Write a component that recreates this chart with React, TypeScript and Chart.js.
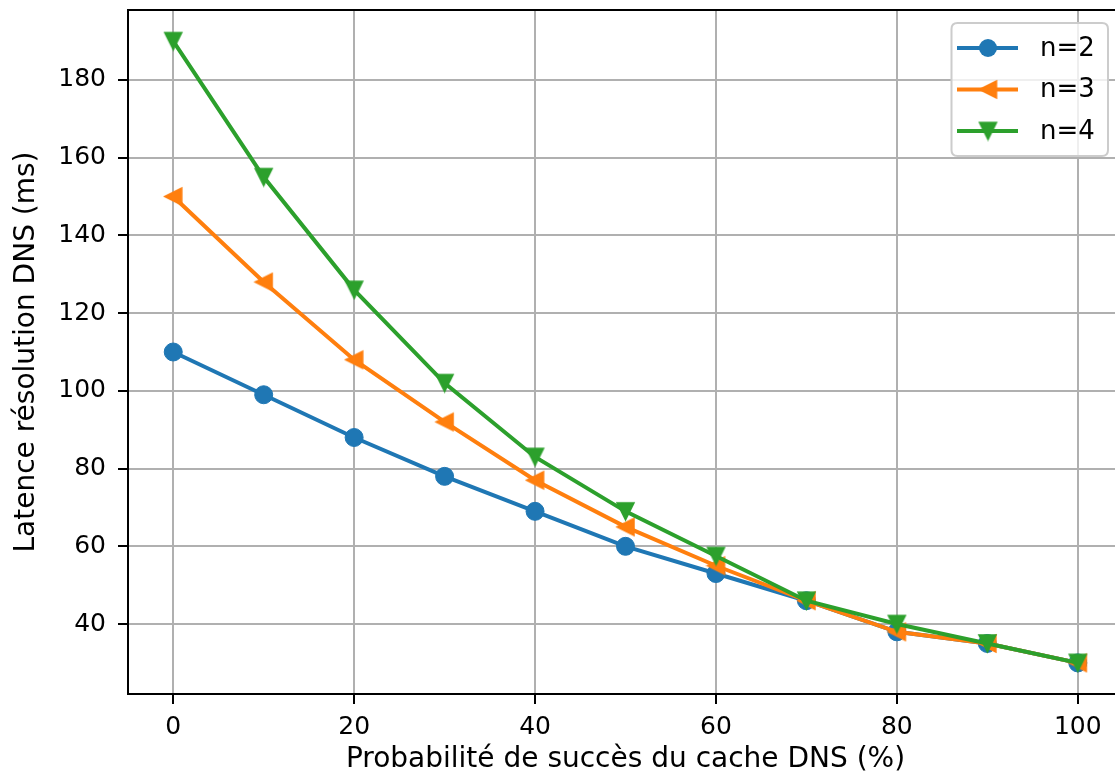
import React, { useEffect, useRef } from "react";
import { Chart, registerables } from "chart.js";

Chart.register(...registerables);

// ---- Data ----
const cacheHitPct = [0, 10, 20, 30, 40, 50, 60, 70, 80, 90, 100];
const latencyN2 = [110, 99, 88, 78, 69, 60, 53, 46, 38, 35, 30];
const latencyN3 = [150, 128, 108, 92, 77, 65, 55, 46, 38, 35, 30];
const latencyN4 = [190, 155, 126, 102, 83, 69, 57.5, 46, 40, 35, 30];
const seriesLabels = ["n=2", "n=3", "n=4"];
const seriesColors = ["#1f77b4", "#ff7f0e", "#2ca02c"];
const xTickValues = [0, 20, 40, 60, 80, 100];
const yTickValues = [40, 60, 80, 100, 120, 140, 160, 180];
const xAxisTitle = "Probabilité de succès du cache DNS (%)";
const yAxisTitle = "Latence résolution DNS (ms)";

const FONT = "'DejaVu Sans', sans-serif";
const CANVAS_W = 1132.5;

function makeTriangle(color: string, dir: "left" | "down", size = 17, edge = 1.5) {
  const pad = 2;
  const dim = Math.ceil(size + 2 * pad);
  const c = document.createElement("canvas");
  c.width = dim;
  c.height = dim;
  const ctx = c.getContext("2d")!;
  const h = size / 2;
  const cx = dim / 2;
  const cy = dim / 2;
  ctx.beginPath();
  if (dir === "left") {
    ctx.moveTo(cx - h, cy);
    ctx.lineTo(cx + h, cy - h);
    ctx.lineTo(cx + h, cy + h);
  } else {
    ctx.moveTo(cx, cy + h);
    ctx.lineTo(cx - h, cy - h);
    ctx.lineTo(cx + h, cy - h);
  }
  ctx.closePath();
  ctx.fillStyle = color;
  ctx.fill();
  ctx.lineWidth = edge;
  ctx.strokeStyle = color;
  ctx.lineJoin = "miter";
  ctx.stroke();
  return c;
}

export default function App() {
  const canvasRef = useRef<HTMLCanvasElement | null>(null);

  useEffect(() => {
    const canvas = canvasRef.current;
    if (!canvas) return;

    const markerStyles: any[] = [
      "circle",
      makeTriangle(seriesColors[1], "left"),
      makeTriangle(seriesColors[2], "down"),
    ];
    const seriesValues = [latencyN2, latencyN3, latencyN4];

    const framePlugin = {
      id: "frame",
      afterDraw(chart: any) {
        const { ctx, chartArea } = chart;
        const { left, right, top, bottom } = chartArea;
        ctx.save();
        ctx.strokeStyle = "#000";
        ctx.lineWidth = 2;
        ctx.beginPath();
        ctx.moveTo(left - 1, top);
        ctx.lineTo(right, top);
        ctx.lineTo(right, bottom);
        ctx.stroke();
        ctx.restore();

        // legend (matplotlib-like)
        const bx = 951.5, by = 23, bw = 156.5, bh = 133, r = 6;
        ctx.save();
        ctx.beginPath();
        ctx.moveTo(bx + r, by);
        ctx.lineTo(bx + bw - r, by);
        ctx.quadraticCurveTo(bx + bw, by, bx + bw, by + r);
        ctx.lineTo(bx + bw, by + bh - r);
        ctx.quadraticCurveTo(bx + bw, by + bh, bx + bw - r, by + bh);
        ctx.lineTo(bx + r, by + bh);
        ctx.quadraticCurveTo(bx, by + bh, bx, by + bh - r);
        ctx.lineTo(bx, by + r);
        ctx.quadraticCurveTo(bx, by, bx + r, by);
        ctx.closePath();
        ctx.fillStyle = "rgba(255,255,255,0.8)";
        ctx.fill();
        ctx.strokeStyle = "#cccccc";
        ctx.lineWidth = 2;
        ctx.stroke();

        const rowYs = [48, 89.5, 131];
        chart.data.datasets.forEach((ds: any, i: number) => {
          const y = rowYs[i];
          ctx.strokeStyle = ds.borderColor;
          ctx.lineWidth = 4;
          ctx.beginPath();
          ctx.moveTo(957, y);
          ctx.lineTo(1018, y);
          ctx.stroke();
          const ms = markerStyles[i];
          if (ms === "circle") {
            ctx.beginPath();
            ctx.arc(988, y, 9, 0, Math.PI * 2);
            ctx.fillStyle = ds.borderColor;
            ctx.fill();
          } else {
            ctx.drawImage(ms, 988 - ms.width / 2, y - ms.height / 2);
          }
          ctx.fillStyle = "#000";
          ctx.font = `26px ${FONT}`;
          ctx.textBaseline = "middle";
          ctx.textAlign = "left";
          ctx.fillText(ds.label, 1040, y + 1);
        });
        ctx.restore();
      },
    };

    const chart = new Chart(canvas, {
      type: "line",
      data: {
        labels: cacheHitPct,
        datasets: seriesLabels.map((label, i) => ({
          label,
          data: cacheHitPct.map((x, j) => ({ x, y: seriesValues[i][j] })),
          borderColor: seriesColors[i],
          backgroundColor: seriesColors[i],
          pointBackgroundColor: seriesColors[i],
          pointBorderColor: seriesColors[i],
          pointBorderWidth: 1,
          borderWidth: 4,
          pointRadius: 9,
          pointHoverRadius: 9,
          pointStyle: markerStyles[i],
          tension: 0,
          fill: false,
          order: 3 - i,
        })),
      },
      options: {
        responsive: false,
        animation: false,
        devicePixelRatio: 1,
        layout: { padding: { top: 10, right: 10, left: 0, bottom: 0 } },
        plugins: {
          legend: { display: false },
          tooltip: { enabled: false },
        },
        scales: {
          x: {
            type: "linear",
            min: -5,
            max: 105,
            afterBuildTicks: (s: any) => {
              s.ticks = xTickValues.map((v) => ({ value: v }));
            },
            afterFit: (s: any) => {
              s.height = 85;
              s.paddingLeft = 0;
              s.paddingRight = 0;
              s.paddingTop = 0;
              s.paddingBottom = 0;
            },
            grid: {
              color: "#b0b0b0",
              lineWidth: 2,
              drawTicks: true,
              tickColor: "#000",
              tickWidth: 2,
              tickLength: 10,
            },
            border: { display: true, color: "#000", width: 2 },
            ticks: {
              color: "#000",
              font: { family: FONT, size: 25 },
              padding: 8,
              maxRotation: 0,
              autoSkip: false,
              callback: (v: any) => String(v),
            },
            title: {
              display: true,
              text: xAxisTitle,
              color: "#000",
              font: { family: FONT, size: 28 },
              padding: { top: 0, bottom: 2 },
            },
          },
          y: {
            type: "linear",
            min: 22,
            max: 198,
            afterBuildTicks: (s: any) => {
              s.ticks = yTickValues.map((v) => ({ value: v }));
            },
            afterFit: (s: any) => {
              s.width = 128;
              s.paddingLeft = 0;
              s.paddingRight = 0;
              s.paddingTop = 0;
              s.paddingBottom = 0;
            },
            grid: {
              color: "#b0b0b0",
              lineWidth: 2,
              drawTicks: true,
              tickColor: "#000",
              tickWidth: 2,
              tickLength: 10,
            },
            border: { display: true, color: "#000", width: 2 },
            ticks: {
              color: "#000",
              font: { family: FONT, size: 25 },
              padding: 12,
              autoSkip: false,
              callback: (v: any) => String(v),
            },
            title: {
              display: true,
              text: yAxisTitle,
              color: "#000",
              font: { family: FONT, size: 28 },
              padding: { top: 10, bottom: 0 },
            },
          },
        },
      } as any,
      plugins: [framePlugin],
    });

    return () => {
      chart.destroy();
    };
  }, []);

  return (
    <div
      style={{
        position: "fixed",
        left: 0,
        top: 0,
        width: 1115,
        height: 779,
        overflow: "hidden",
        background: "#fff",
      }}
    >
      <div style={{ position: "relative", width: 1133, height: 779 }}>
        <canvas
          ref={canvasRef}
          width={1133}
          height={779}
          style={{ display: "block", width: 1133, height: 779 }}
        />
      </div>
    </div>
  );
}
